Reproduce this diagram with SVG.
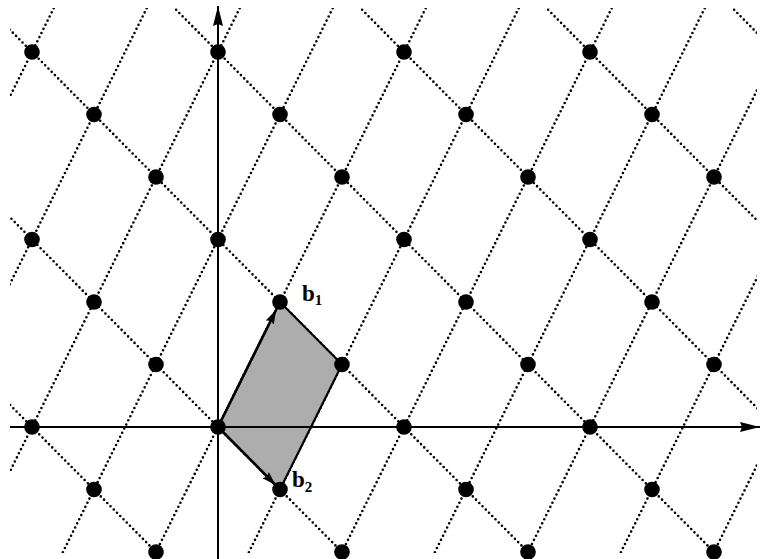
<svg xmlns="http://www.w3.org/2000/svg" width="761" height="559" viewBox="0 0 761 559">
<style>
.grid line{stroke:#000;stroke-width:2.6;stroke-dasharray:0 4.6;stroke-linecap:round;fill:none}
.axis{stroke:#000;stroke-width:2;fill:none}
.vec{stroke:#000;stroke-width:2.5;fill:none}
.pt{fill:#000}
.lbl{font-family:"Liberation Serif","DejaVu Serif",serif;font-weight:bold;font-size:23px;fill:#000}
</style>
<defs>
<clipPath id="clip"><rect x="10" y="8" width="747" height="545"/></clipPath>
<marker id="axhead" markerUnits="userSpaceOnUse" viewBox="0 0 20 10" markerWidth="20" markerHeight="10" refX="20" refY="5" orient="auto">
<path d="M0,0 L20,5 L0,10 L2,5 z" fill="#000"/>
</marker>
<marker id="vhead" markerUnits="userSpaceOnUse" viewBox="0 0 14 9" markerWidth="14" markerHeight="9" refX="14" refY="4.5" orient="auto">
<path d="M0,0 L14,4.5 L0,9 L2,4.5 z" fill="#000"/>
</marker>
</defs>
<rect width="761" height="559" fill="#fff"/>
<g id="connectors">
<g class="grid" clip-path="url(#clip)">
<line x1="57.8" y1="0" x2="-219.5" y2="559"/>
<line x1="150.8" y1="0" x2="-126.5" y2="559"/>
<line x1="243.8" y1="0" x2="-33.5" y2="559"/>
<line x1="336.8" y1="0" x2="59.5" y2="559"/>
<line x1="429.8" y1="0" x2="152.5" y2="559"/>
<line x1="522.8" y1="0" x2="245.5" y2="559"/>
<line x1="615.8" y1="0" x2="338.5" y2="559"/>
<line x1="708.8" y1="0" x2="431.5" y2="559"/>
<line x1="801.8" y1="0" x2="524.5" y2="559"/>
<line x1="894.8" y1="0" x2="617.5" y2="559"/>
<line x1="987.8" y1="0" x2="710.5" y2="559"/>
<line x1="-391.6" y1="0" x2="162.9" y2="559"/>
<line x1="-205.6" y1="0" x2="348.9" y2="559"/>
<line x1="-19.6" y1="0" x2="534.9" y2="559"/>
<line x1="166.4" y1="0" x2="720.9" y2="559"/>
<line x1="352.4" y1="0" x2="906.9" y2="559"/>
<line x1="538.4" y1="0" x2="1092.9" y2="559"/>
<line x1="724.4" y1="0" x2="1278.9" y2="559"/>
</g>
<polygon id="cell" points="218,427 280,302 342,364.5 280,489.5" fill="#adadad" stroke="#000" stroke-width="2.2"/>
<line class="axis" x1="10" y1="427" x2="760" y2="427" marker-end="url(#axhead)"/>
<line class="axis" x1="218" y1="559" x2="218" y2="6" marker-end="url(#axhead)"/>
<line class="vec" x1="218" y1="427" x2="276" y2="310" marker-end="url(#vhead)"/>
<line class="vec" x1="218" y1="427" x2="275.5" y2="485" marker-end="url(#vhead)"/>
</g>
<g id="points" class="pt">
<circle cx="32" cy="52" r="7.8"/><circle cx="218" cy="52" r="7.8"/><circle cx="404" cy="52" r="7.8"/><circle cx="590" cy="52" r="7.8"/>
<circle cx="94" cy="114.5" r="7.8"/><circle cx="280" cy="114.5" r="7.8"/><circle cx="466" cy="114.5" r="7.8"/><circle cx="652" cy="114.5" r="7.8"/>
<circle cx="156" cy="177" r="7.8"/><circle cx="342" cy="177" r="7.8"/><circle cx="528" cy="177" r="7.8"/><circle cx="714" cy="177" r="7.8"/>
<circle cx="32" cy="239.5" r="7.8"/><circle cx="218" cy="239.5" r="7.8"/><circle cx="404" cy="239.5" r="7.8"/><circle cx="590" cy="239.5" r="7.8"/>
<circle cx="94" cy="302" r="7.8"/><circle cx="280" cy="302" r="7.8"/><circle cx="466" cy="302" r="7.8"/><circle cx="652" cy="302" r="7.8"/>
<circle cx="156" cy="364.5" r="7.8"/><circle cx="342" cy="364.5" r="7.8"/><circle cx="528" cy="364.5" r="7.8"/><circle cx="714" cy="364.5" r="7.8"/>
<circle cx="32" cy="427" r="7.8"/><circle cx="218" cy="427" r="7.8"/><circle cx="404" cy="427" r="7.8"/><circle cx="590" cy="427" r="7.8"/>
<circle cx="94" cy="489.5" r="7.8"/><circle cx="280" cy="489.5" r="7.8"/><circle cx="466" cy="489.5" r="7.8"/><circle cx="652" cy="489.5" r="7.8"/>
<circle cx="156" cy="552" r="7.8"/><circle cx="342" cy="552" r="7.8"/><circle cx="528" cy="552" r="7.8"/><circle cx="714" cy="552" r="7.8"/>
</g>
<g id="label-b1"><text class="lbl" x="302" y="301">b<tspan font-size="15" dy="4">1</tspan></text></g>
<g id="label-b2"><text class="lbl" x="292" y="487">b<tspan font-size="15" dy="5">2</tspan></text></g>
</svg>
